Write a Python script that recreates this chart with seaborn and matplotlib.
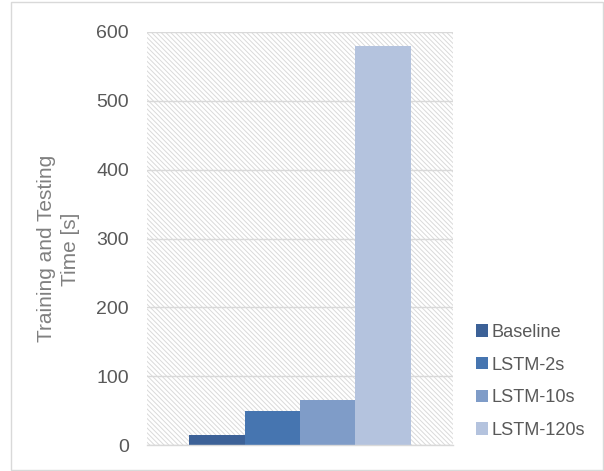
import matplotlib
matplotlib.use("Agg")
import matplotlib.pyplot as plt
import matplotlib.patches as mpatches
import seaborn as sns
import pandas as pd

# Data
models = ["Baseline", "LSTM-2s", "LSTM-10s", "LSTM-120s"]
times = [15, 50, 65, 580]
colors = ["#3C6197", "#4675B0", "#7F9CC8", "#B4C3DE"]
yticks = [0, 100, 200, 300, 400, 500, 600]

df = pd.DataFrame({"group": ["all"] * len(models), "model": models, "time": times})

sns.set_theme(style="white")
plt.rcParams["font.family"] = ["Liberation Sans", "DejaVu Sans"]
plt.rcParams["hatch.linewidth"] = 0.7

fig = plt.figure(figsize=(6.04, 4.71), dpi=100)
W, H = 604, 471
ax = fig.add_axes([147 / W, 1 - 445 / H, (453 - 147) / W, (445 - 32) / H])

# Hatched plot-area background
bg = mpatches.Rectangle((0, 0), 1, 1, transform=ax.transAxes, facecolor="white",
                        edgecolor="#DADADA", hatch="\\" * 7, linewidth=0, zorder=0.1)
ax.add_patch(bg)

sns.barplot(data=df, x="group", y="time", hue="model", hue_order=models,
            palette=colors, width=0.725, linewidth=0, saturation=1,
            legend=False, ax=ax, zorder=2)

ax.set_xlim(-0.5, 0.5)
ax.set_ylim(0, 600)
ax.set_yticks(yticks)
ax.set_yticklabels([str(t) for t in yticks], fontsize=14, color="#595959")
ax.set_xticks([])
ax.set_xlabel("")
ax.set_ylabel("Training and Testing\nTime [s]", fontsize=15, color="#808080",
              linespacing=1.35)
ax.yaxis.set_label_coords(-0.218, 0.475)
ax.tick_params(axis="y", length=0, pad=13)
ax.set_axisbelow(True)
ax.grid(axis="y", color="#D9D9D9", linewidth=1, zorder=0.5)
for side in ["left", "right", "top"]:
    ax.spines[side].set_visible(False)
ax.spines["bottom"].set_color("#D9D9D9")
ax.spines["bottom"].set_linewidth(1)
ax.patch.set_alpha(0)

# Legend
handles = [mpatches.Patch(facecolor=c, edgecolor="none", label=m) for m, c in zip(models, colors)]
leg = fig.legend(handles=handles, loc="upper left", bbox_to_anchor=(476 / W, 1 - 324 / H),
                 frameon=False, fontsize=13.1, handlelength=0.66, handleheight=0.66,
                 handletextpad=0.2, labelspacing=0.86, borderaxespad=0, borderpad=0)
for t in leg.get_texts():
    t.set_color("#595959")

# Chart-area border
border = mpatches.Rectangle((11 / W, 1 / H), (603 - 11) / W, (469 - 1) / H,
                            transform=fig.transFigure, fill=False,
                            edgecolor="#D9D9D9", linewidth=1)
fig.patches.append(border)

fig.savefig("out.png", dpi=100)
